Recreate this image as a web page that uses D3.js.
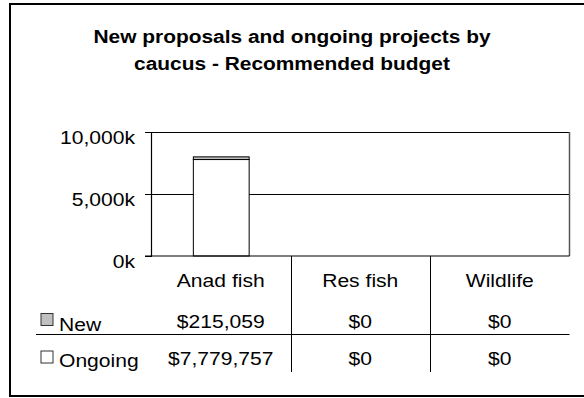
<!DOCTYPE html>
<html>
<head>
<meta charset="utf-8">
<script src="https://cdn.jsdelivr.net/npm/d3@7/dist/d3.min.js"></script>
<style>
  html, body { margin: 0; padding: 0; background: #fff; }
  svg { display: block; }
  text { font-family: "Liberation Sans", Arial, sans-serif; fill: #000; }
</style>
</head>
<body>
<svg id="chart" width="584" height="398"></svg>
<script>
// Recommended budget by caucus, split into new proposals and ongoing projects
const categories = ["Anad fish", "Res fish", "Wildlife"];
const seriesNames = ["New", "Ongoing"];
const newValues = [215059, 0, 0];
const ongoingValues = [7779757, 0, 0];
const yTicks = [0, 5000000, 10000000];
const titleLines = ["New proposals and ongoing projects by", "caucus - Recommended budget"];

const seriesColors = { "New": "#c0c0c0", "Ongoing": "#ffffff" };
const stretch = 1.14;   // text is drawn slightly wide

const svg = d3.select("#chart");

const plot = { left: 151, right: 569.5, top: 132, bottom: 256 };

// Outer frame
svg.append("rect")
  .attr("x", 10).attr("y", 4)
  .attr("width", 590).attr("height", 392)
  .attr("fill", "none").attr("stroke", "#000").attr("stroke-width", 2);

// Title
const title = svg.append("g");
titleLines.forEach((line, i) => {
  title.append("text")
    .attr("transform", `translate(292,${43 + i * 27}) scale(1.1,1)`)
    .attr("text-anchor", "middle")
    .attr("font-size", 19)
    .attr("font-weight", "bold")
    .text(line);
});

// Scales
const y = d3.scaleLinear()
  .domain([0, d3.max(yTicks)])
  .range([plot.bottom, plot.top]);

const xCol = d3.scaleBand()
  .domain(categories)
  .range([plot.left, plot.right])
  .padding(0);

const xBar = d3.scaleBand()
  .domain(categories)
  .range([plot.left, plot.right])
  .paddingInner(0.6)
  .paddingOuter(0.3);

// Gridlines (the top one closes the plot box)
svg.append("g")
  .selectAll("line")
  .data(yTicks.filter(t => t > 0))
  .join("line")
  .attr("x1", plot.left).attr("x2", plot.right)
  .attr("y1", d => Math.round(y(d)) + 0.5)
  .attr("y2", d => Math.round(y(d)) + 0.5)
  .attr("stroke", "#000").attr("stroke-width", 1);

// Right edge of the plot box
svg.append("line")
  .attr("x1", plot.right).attr("x2", plot.right)
  .attr("y1", plot.top).attr("y2", plot.bottom)
  .attr("stroke", "#555").attr("stroke-width", 1.5);

// Stacked bars: ongoing at the bottom, new proposals on top
const stackData = categories.map((c, i) => ({ cat: c, New: newValues[i], Ongoing: ongoingValues[i] }));
const stack = d3.stack().keys(["Ongoing", "New"])(stackData);

const barsG = svg.append("g");
stack.forEach(layer => {
  barsG.selectAll(null)
    .data(layer.filter(d => d[1] - d[0] > 0))
    .join("rect")
    .attr("x", d => xBar(d.data.cat) + 0.5)
    .attr("y", d => y(d[1]))
    .attr("width", xBar.bandwidth())
    .attr("height", d => y(d[0]) - y(d[1]))
    .attr("fill", seriesColors[layer.key])
    .attr("stroke", "#000")
    .attr("stroke-width", 1);
});

// Y axis
const yAxis = d3.axisLeft(y)
  .tickValues(yTicks)
  .tickSize(6)
  .tickPadding(10)
  .tickFormat(d => d3.format(",")(d / 1000) + "k");

const yAxisG = svg.append("g")
  .attr("transform", `translate(${plot.left},0)`)
  .call(yAxis);
yAxisG.select(".domain").attr("stroke", "#000").attr("stroke-width", 1.2);
yAxisG.selectAll(".tick line").attr("stroke", "#000");
yAxisG.selectAll(".tick text")
  .attr("font-family", "Liberation Sans, Arial, sans-serif")
  .attr("font-size", 18.5)
  .attr("fill", "#000")
  .attr("dy", null)
  .attr("x", null)
  .attr("transform", `translate(-16,11.5) scale(${stretch},1)`);

// X axis baseline
svg.append("line")
  .attr("x1", 145).attr("x2", plot.right)
  .attr("y1", plot.bottom).attr("y2", plot.bottom)
  .attr("stroke", "#000").attr("stroke-width", 1.2);

// Data table below the plot
const rowBaselines = { header: 286.5, New: 327.5, Ongoing: 365 };
const tableBottom = 372;

// Column dividers
svg.append("g")
  .selectAll("line")
  .data(categories.slice(1))
  .join("line")
  .attr("x1", d => Math.round(xCol(d)) + 0.5)
  .attr("x2", d => Math.round(xCol(d)) + 0.5)
  .attr("y1", plot.bottom).attr("y2", tableBottom)
  .attr("stroke", "#000").attr("stroke-width", 1);

// Row divider
svg.append("line")
  .attr("x1", 36).attr("x2", plot.right)
  .attr("y1", 334.5).attr("y2", 334.5)
  .attr("stroke", "#000").attr("stroke-width", 1);

// Category headers
svg.append("g")
  .selectAll("text")
  .data(categories)
  .join("text")
  .attr("transform", d => `translate(${xCol(d) + xCol.bandwidth() / 2},${rowBaselines.header}) scale(${stretch},1)`)
  .attr("text-anchor", "middle")
  .attr("font-size", 18.5)
  .text(d => d);

// Value cells
const money = v => "$" + d3.format(",")(v);
const rows = [
  { name: "New", values: newValues },
  { name: "Ongoing", values: ongoingValues }
];
rows.forEach(row => {
  svg.append("g")
    .selectAll("text")
    .data(categories.map((c, i) => ({ cat: c, v: row.values[i] })))
    .join("text")
    .attr("transform", d => `translate(${xCol(d.cat) + xCol.bandwidth() / 2},${rowBaselines[row.name]}) scale(${stretch},1)`)
    .attr("text-anchor", "middle")
    .attr("font-size", 18.5)
    .text(d => money(d.v));
});

// Legend keys in the row headers
const legendY = { New: 313.5, Ongoing: 351 };
const legendBase = { New: 331, Ongoing: 366.5 };
seriesNames.forEach(name => {
  svg.append("rect")
    .attr("x", 41).attr("y", legendY[name])
    .attr("width", 12).attr("height", 12)
    .attr("fill", seriesColors[name])
    .attr("stroke", "#333").attr("stroke-width", 1);
  svg.append("text")
    .attr("transform", `translate(59,${legendBase[name]}) scale(${stretch},1)`)
    .attr("font-size", 18.5)
    .text(name);
});
</script>
</body>
</html>
